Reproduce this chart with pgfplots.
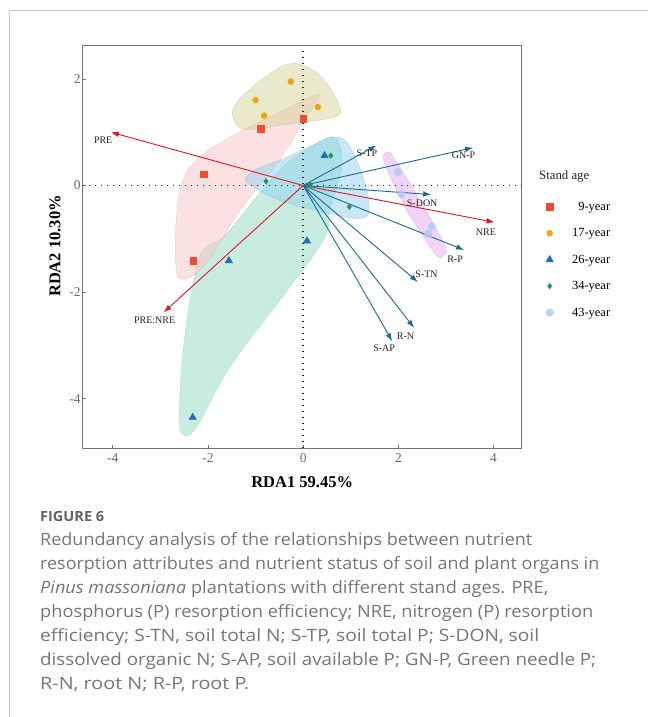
\documentclass[border=0pt]{standalone}
\usepackage{fontspec}
\setmainfont{Liberation Serif}
\newfontfamily\capfont{Open Sans}
\usepackage{graphicx}
\usepackage{pgfplots}
\pgfplotsset{compat=1.18}
\usetikzlibrary{arrows.meta}
\definecolor{c9}{HTML}{F04E33}
\definecolor{c17}{HTML}{F5A30F}
\definecolor{c26}{HTML}{1F72AE}
\definecolor{c34}{HTML}{1A9850}
\definecolor{c43}{HTML}{B3CBF2}
\definecolor{h9}{HTML}{F8C4C4}
\definecolor{h17}{HTML}{D4D08C}
\definecolor{h26}{HTML}{93DDC3}
\definecolor{h34}{HTML}{92D2F0}
\definecolor{h43}{HTML}{E0A0F0}
\definecolor{arrred}{HTML}{E3141F}
\definecolor{arrblue}{HTML}{1B6A96}
\definecolor{capgray}{HTML}{767676}
\newcommand\capline[2]{\resizebox{#1}{\height}{#2}}
\begin{document}
\begin{tikzpicture}
\fill[white] (0pt,0pt) rectangle (648pt,-717pt);
\path[use as bounding box] (0pt,0pt) rectangle (648pt,-717pt);
\draw[black!22, line width=1pt] (9pt,-717pt) -- (9pt,-10.7pt) -- (648pt,-10.7pt);
\begin{axis}[
  at={(82.7pt,-448.3pt)}, anchor=south west,
  scale only axis, width=439pt, height=403pt,
  xmin=-4.63, xmax=4.59, ymin=-4.93, ymax=2.63,
  xtick={-4,-2,0,2,4}, ytick={-4,-2,0,2},
  xtick pos=left, ytick pos=left,
  axis line style={draw=black!55, line width=0.8pt},
  tick align=inside, major tick length=3pt,
  tick style={black!55, line width=0.6pt},
  ticklabel style={font=\fontsize{13.5}{15}\selectfont, text=black!58, inner sep=2pt},
  xticklabel style={yshift=-3.5pt},
  /pgf/number format/assume math mode=true,
  xlabel={RDA1 59.45\%}, ylabel={RDA2 10.30\%},
  label style={font=\bfseries\fontsize{16.5}{18}\selectfont},
  xlabel style={at={(axis description cs:0.5,-0.083)}, anchor=center},
  ylabel style={at={(axis description cs:-0.063,0.502)}, anchor=center},
  clip=false,
  legend image code/.code={\draw[#1] plot coordinates {(0pt,0pt)};},
  legend style={at={(axis description cs:1.0547,0.617)}, anchor=north west,
    draw=none, fill=none, font=\fontsize{12.5}{14}\selectfont,
    cells={anchor=center},
    nodes={inner sep=2pt}, row sep=12.7pt, inner sep=0pt,
    /tikz/every odd column/.append style={column sep=16.5pt}},
]
% hulls
\addplot[forget plot, smooth, tension=0.6, fill=h26, fill opacity=0.5, draw=h26!80!black, draw opacity=0.35, line width=0.5pt] coordinates {
(-1.04,-0.28) (-0.35,0.41) (0.35,0.82) (0.70,0.88) (0.81,0.35) (0.56,-0.46) (0.42,-1.03) (-0.49,-2.15) (-1.54,-3.4) (-2.24,-4.53) (-2.52,-4.67) (-2.6,-4.34) (-2.52,-3.09) (-2.31,-1.84) (-2.1,-1.21) (-1.67,-0.96) (-1.04,-0.28)};
\addplot[forget plot, smooth, tension=0.6, fill=h9, fill opacity=0.5, draw=h9!80!black, draw opacity=0.35, line width=0.5pt] coordinates {
(-0.49,0.47) (-1.33,-0.47) (-2.03,-1.46) (-2.52,-1.76) (-2.67,-1.53) (-2.66,-0.59) (-2.52,0.1) (-2.17,0.54) (-1.4,0.97) (-0.49,1.38) (0.14,1.66) (0.34,1.69) (0.07,1.29) (-0.49,0.47)};
\addplot[forget plot, smooth, tension=0.6, fill=h17, fill opacity=0.45, draw=h17!80!black, draw opacity=0.35, line width=0.5pt] coordinates {
(-0.49,2.22) (-0.14,2.29) (0.35,2.07) (0.74,1.54) (0.67,1.29) (-0.35,1.15) (-1.26,1.06) (-1.47,1.44) (-0.98,1.91) (-0.49,2.22)};
\addplot[forget plot, smooth, tension=0.6, fill=h34, fill opacity=0.5, draw=h34!80!black, draw opacity=0.35, line width=0.5pt] coordinates {
(-0.49,0.47) (0.21,0.76) (0.56,0.9) (0.91,0.82) (1.26,0.16) (1.39,-0.45) (1.19,-0.62) (0.56,-0.53) (-0.49,-0.28) (-1.05,-0.02) (-1.22,0.12) (-1.0,0.3) (-0.49,0.47)};
\addplot[forget plot, smooth, tension=0.6, fill=h43, fill opacity=0.45, draw=h43!80!black, draw opacity=0.35, line width=0.5pt] coordinates {
(2.17,-0.46) (1.70,0.44) (1.79,0.63) (1.96,0.44) (2.45,-0.28) (2.98,-1.12) (2.94,-1.31) (2.77,-1.28) (2.17,-0.46)};
% dotted zero lines
\addplot[forget plot, black!85, line width=1.5pt, dash pattern=on 1.5pt off 4.5pt] coordinates {(-4.63,0) (4.59,0)};
\addplot[forget plot, black!85, line width=1.5pt, dash pattern=on 1.5pt off 4.5pt] coordinates {(0,-4.93) (0,2.55)};
% arrows
\addplot[forget plot, arrred, line width=0.9pt, -{Latex[length=8pt,width=5.5pt]}] coordinates {(0,0) (-4.04,1.0)};
\addplot[forget plot, arrred, line width=0.9pt, -{Latex[length=8pt,width=5.5pt]}] coordinates {(0,0) (-2.93,-2.38)};
\addplot[forget plot, arrred, line width=0.9pt, -{Latex[length=8pt,width=5.5pt]}] coordinates {(0,0) (4.02,-0.69)};
\addplot[forget plot, arrblue, line width=0.9pt, -{Latex[length=8pt,width=5.5pt]}] coordinates {(0,0) (1.54,0.75)};
\addplot[forget plot, arrblue, line width=0.9pt, -{Latex[length=8pt,width=5.5pt]}] coordinates {(0,0) (3.57,0.71)};
\addplot[forget plot, arrblue, line width=0.9pt, -{Latex[length=8pt,width=5.5pt]}] coordinates {(0,0) (2.69,-0.17)};
\addplot[forget plot, arrblue, line width=0.9pt, -{Latex[length=8pt,width=5.5pt]}] coordinates {(0,0) (3.38,-1.21)};
\addplot[forget plot, arrblue, line width=0.9pt, -{Latex[length=8pt,width=5.5pt]}] coordinates {(0,0) (2.41,-1.81)};
\addplot[forget plot, arrblue, line width=0.9pt, -{Latex[length=8pt,width=5.5pt]}] coordinates {(0,0) (2.33,-2.67)};
\addplot[forget plot, arrblue, line width=0.9pt, -{Latex[length=8pt,width=5.5pt]}] coordinates {(0,0) (1.87,-2.92)};
% arrow labels
\begin{scope}[every node/.style={font=\fontsize{10}{12}\selectfont, text=black!85, inner sep=0pt}]
\node at (axis cs:-4.2,0.84) {PRE};
\node at (axis cs:-3.12,-2.53) {PRE:NRE};
\node at (axis cs:3.84,-0.87) {NRE};
\node at (axis cs:1.34,0.6) {S-TP};
\node at (axis cs:3.37,0.56) {GN-P};
\node at (axis cs:2.5,-0.33) {S-DON};
\node at (axis cs:3.19,-1.38) {R-P};
\node at (axis cs:2.59,-1.67) {S-TN};
\node at (axis cs:2.15,-2.83) {R-N};
\node at (axis cs:1.7,-3.06) {S-AP};
\end{scope}
% points
\addplot[only marks, mark=square*, mark size=3.3pt, mark options={fill=c9, draw=c9}] coordinates {
(-0.89,1.06) (0.0,1.25) (-2.09,0.21) (-2.31,-1.41)};
\addlegendentry{\phantom{1}9-year}
\addplot[only marks, mark=*, mark size=3pt, mark options={fill=c17, draw=c17}] coordinates {
(-0.26,1.95) (-1.0,1.6) (-0.82,1.31) (0.31,1.47)};
\addlegendentry{17-year}
\addplot[only marks, mark=triangle*, mark size=4.3pt, mark options={fill=c26, draw=c26}] coordinates {
(0.45,0.56) (0.08,-1.04) (-1.56,-1.41) (-2.32,-4.35)};
\addlegendentry{26-year}
\addplot[only marks, mark=diamond*, mark size=2.8pt, mark options={fill=c34, draw=c34}] coordinates {
(0.58,0.56) (-0.78,0.08) (0.15,0.02) (0.97,-0.40)};
\addlegendentry{34-year}
\addplot[only marks, mark=*, mark size=3.8pt, mark options={fill=c43, draw=c43, opacity=0.85}] coordinates {
(1.99,0.25) (2.06,-0.16) (2.7,-0.77) (2.63,-0.91)};
\addlegendentry{43-year}
\end{axis}
\node[anchor=base west, font=\fontsize{12.8}{14}\selectfont, text=black!85, inner sep=0pt] at (539pt,-179.5pt) {Stand age};
% caption
\begin{scope}[every node/.style={anchor=base west, inner sep=0pt, text=capgray, font=\capfont\fontsize{17}{20}\selectfont}]
\node[font=\capfont\bfseries\fontsize{14}{16}\selectfont, text=black!62] at (40pt,-521.7pt) {\capline{64pt}{FIGURE 6}};
\node at (40pt,-545.5pt) {\capline{492pt}{Redundancy analysis of the relationships between nutrient}};
\node at (40pt,-569.5pt) {\capline{559pt}{resorption attributes and nutrient status of soil and plant organs in}};
\node at (40pt,-593.5pt) {\capline{508pt}{\textit{Pinus massoniana} plantations with different stand ages. PRE,}};
\node at (40pt,-617.5pt) {\capline{553pt}{phosphorus (P) resorption efficiency; NRE, nitrogen (P) resorption}};
\node at (40pt,-641.5pt) {\capline{499pt}{efficiency; S-TN, soil total N; S-TP, soil total P; S-DON, soil}};
\node at (40pt,-665.5pt) {\capline{556pt}{dissolved organic N; S-AP, soil available P; GN-P, Green needle P;}};
\node at (40pt,-689.5pt) {\capline{209pt}{R-N, root N; R-P, root P.}};
\end{scope}
\end{tikzpicture}
\end{document}
